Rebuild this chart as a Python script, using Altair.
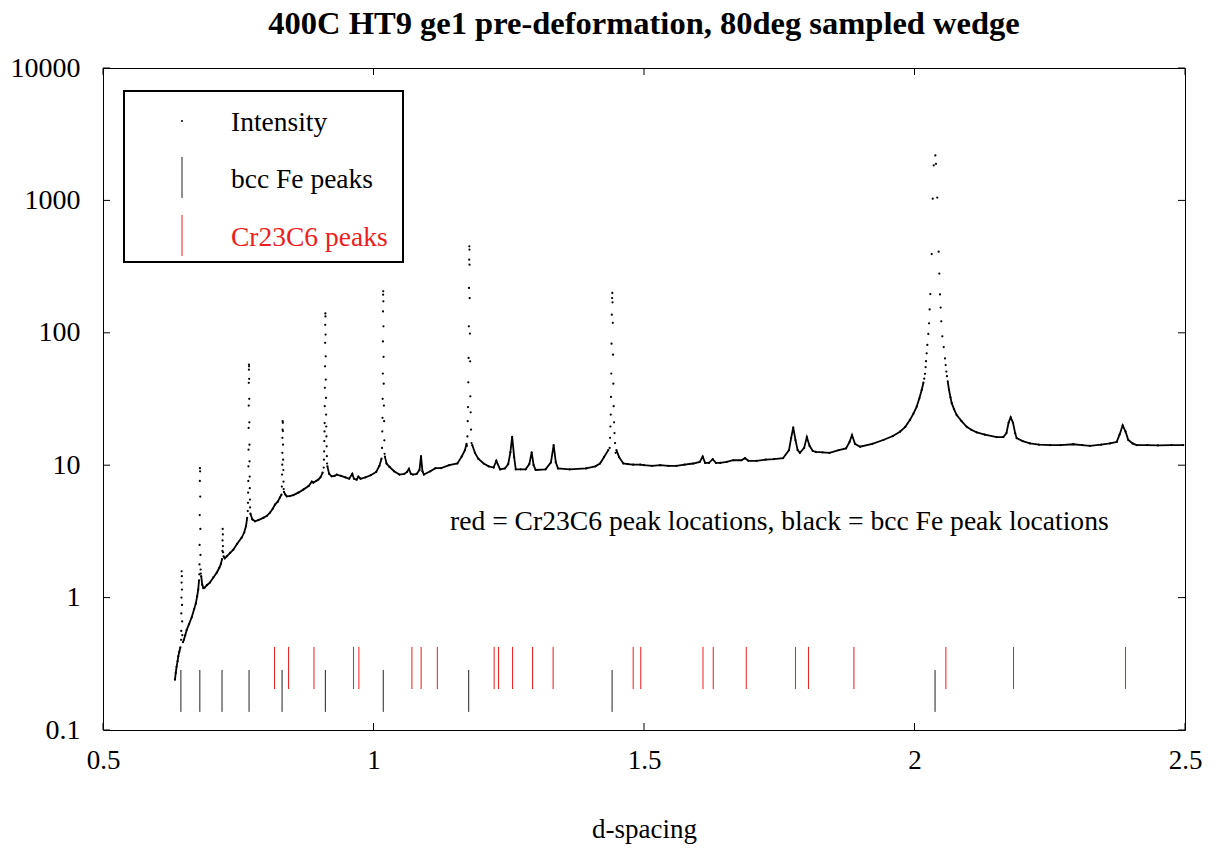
import altair as alt
import pandas as pd

# ---------------- data ----------------
# continuous background of the diffraction pattern, split at the strong peaks
seg_01 = [(0.6330, 0.24), (0.6345, 0.27), (0.6360, 0.30), (0.6378, 0.33), (0.6392, 0.36), (0.6410, 0.39), (0.6430, 0.42)]
seg_02 = [(0.6478, 0.46), (0.6495, 0.48), (0.6520, 0.52), (0.6547, 0.57), (0.6590, 0.63), (0.6640, 0.71), (0.6685, 0.82),
          (0.6715, 0.90), (0.6740, 1.02), (0.6760, 1.15), (0.6775, 1.35)]
seg_03 = [(0.6815, 1.45), (0.6835, 1.25), (0.6855, 1.18), (0.6880, 1.19), (0.6920, 1.24), (0.6978, 1.30), (0.7040, 1.42),
          (0.7102, 1.54), (0.7150, 1.68), (0.7180, 1.80), (0.7200, 1.95)]
seg_04 = [(0.7228, 2.05), (0.7250, 1.98), (0.7287, 2.05), (0.7350, 2.18), (0.7409, 2.30), (0.7480, 2.55), (0.7564, 2.84),
          (0.7610, 3.10), (0.7643, 3.46), (0.7665, 4.00)]
seg_05 = [(0.7725, 4.30), (0.7760, 3.90), (0.7810, 3.77), (0.7870, 3.85), (0.7963, 4.00), (0.8030, 4.15), (0.8087, 4.38),
          (0.8140, 4.70), (0.8179, 5.04), (0.8230, 5.30), (0.8270, 5.70), (0.8300, 6.00)]
seg_06 = [(0.8345, 6.3), (0.8370, 6.0), (0.8396, 5.82), (0.8450, 5.85), (0.8518, 5.95), (0.8610, 6.20), (0.8702, 6.54),
          (0.8800, 6.95), (0.8860, 7.50), (0.8887, 7.39), (0.8940, 7.60), (0.8980, 7.78), (0.9020, 8.10), (0.9060, 8.80)]
seg_07 = [(0.9148, 9.8), (0.9180, 8.6), (0.9227, 8.24), (0.9280, 8.30), (0.9320, 8.49), (0.9400, 8.30), (0.9480, 8.10),
          (0.9550, 7.90), (0.9608, 8.60), (0.9640, 7.90), (0.9689, 7.78), (0.9720, 8.20), (0.9760, 7.90), (0.9850, 8.10),
          (0.9950, 8.40), (1.0050, 8.90), (1.0110, 9.90), (1.0148, 11.2)]
seg_08 = [(1.0212, 11.6), (1.0240, 10.3), (1.0297, 9.7), (1.0380, 9.0), (1.0480, 8.5), (1.0570, 8.6), (1.0620, 8.9),
          (1.0655, 9.4), (1.0690, 8.6), (1.0728, 8.5), (1.0800, 8.6), (1.0850, 9.2), (1.0878, 11.7), (1.0905, 9.0),
          (1.0932, 8.5), (1.1050, 9.0), (1.1146, 9.5), (1.1250, 9.5), (1.1400, 10.0), (1.1550, 10.3), (1.1630, 11.6),
          (1.1690, 13.0), (1.1720, 14.5)]
seg_09 = [(1.1825, 14.2), (1.1876, 12.4), (1.1937, 11.2), (1.2036, 10.3), (1.2130, 9.8), (1.2220, 9.6), (1.2270, 10.8),
          (1.2340, 9.3), (1.2430, 9.45), (1.2490, 10.2), (1.2530, 12.5), (1.2563, 16.4), (1.2600, 11.5), (1.2630, 9.3),
          (1.2720, 9.3), (1.2813, 9.3), (1.2880, 10.2), (1.2924, 12.5), (1.2960, 10.0), (1.2998, 9.2), (1.3180, 9.3),
          (1.3280, 10.5), (1.3330, 14.2), (1.3370, 10.5), (1.3410, 9.45), (1.3627, 9.3), (1.3930, 9.45), (1.4100, 9.8),
          (1.4187, 10.3), (1.4260, 11.5), (1.4340, 13.0)]
seg_10 = [(1.4490, 13.0), (1.4540, 11.5), (1.4618, 10.3), (1.4700, 10.2), (1.4800, 10.1), (1.4930, 10.1), (1.5000, 10.0),
          (1.5150, 9.9), (1.5300, 10.0), (1.5450, 9.9), (1.5600, 9.9), (1.5750, 10.1), (1.5910, 10.3), (1.6030, 10.6),
          (1.6085, 11.6), (1.6130, 10.4), (1.6200, 10.4), (1.6270, 11.1), (1.6330, 10.4), (1.6410, 10.4), (1.6530, 10.6),
          (1.6650, 10.9), (1.6800, 10.9), (1.6867, 11.3), (1.6930, 10.8), (1.7080, 10.8), (1.7250, 11.0), (1.7400, 11.1),
          (1.7570, 11.3), (1.7680, 13.0), (1.7720, 16.0), (1.7758, 19.3), (1.7800, 15.5), (1.7840, 13.0), (1.7882, 12.4),
          (1.7960, 13.5), (1.8010, 16.3), (1.8060, 14.0), (1.8120, 12.8), (1.8177, 12.6), (1.8300, 12.5), (1.8430, 12.4),
          (1.8600, 13.0), (1.8734, 13.4), (1.8800, 15.0), (1.8845, 16.9), (1.8900, 14.5), (1.8993, 13.8), (1.9220, 14.5),
          (1.9423, 15.5), (1.9600, 16.6), (1.9732, 17.9), (1.9830, 19.5), (1.9917, 22.0), (1.9980, 24.5), (2.0041, 27.7),
          (2.0090, 32.0), (2.0133, 37.0), (2.0165, 42.0)]
seg_11 = [(2.0614, 43.0), (2.0638, 37.0), (2.0665, 32.5), (2.0688, 29.4), (2.0730, 26.5), (2.0780, 23.9), (2.0870, 21.5),
          (2.0965, 19.5), (2.1050, 18.5), (2.1150, 17.7), (2.1300, 17.0), (2.1519, 16.3), (2.1641, 16.3), (2.1700, 17.5),
          (2.1740, 21.0), (2.1778, 23.0), (2.1820, 21.0), (2.1860, 17.5), (2.1889, 16.0), (2.2000, 15.2), (2.2135, 14.6),
          (2.2300, 14.3), (2.2505, 14.2), (2.2700, 14.2), (2.2935, 14.4), (2.3100, 14.2), (2.3244, 14.0), (2.3450, 14.3),
          (2.3614, 14.6), (2.3738, 15.0), (2.3790, 17.0), (2.3848, 20.0), (2.3900, 18.0), (2.3952, 15.5), (2.4030, 14.6),
          (2.4107, 14.2), (2.4300, 14.2), (2.4500, 14.1), (2.4750, 14.2), (2.4969, 14.2)]
background_segments = [seg_01, seg_02, seg_03, seg_04, seg_05, seg_06, seg_07, seg_08, seg_09, seg_10, seg_11]

# isolated dots on the flanks of the strong peaks
peak_0645 = [(0.6453, 1.58), (0.6457, 1.45), (0.6452, 1.30), (0.6459, 1.15), (0.6450, 1.00), (0.6461, 0.88),
             (0.6448, 0.76), (0.6463, 0.66), (0.6446, 0.56), (0.6466, 0.52), (0.6443, 0.48)]
peak_0679 = [(0.6792, 9.5), (0.6795, 9.0), (0.6790, 7.6), (0.6797, 5.8), (0.6788, 4.2), (0.6799, 3.3), (0.6786, 2.5),
             (0.6802, 2.1), (0.6783, 1.78), (0.6805, 1.63), (0.6780, 1.50), (0.6808, 1.52)]
peak_0721 = [(0.7212, 3.3), (0.7215, 3.0), (0.7210, 2.7), (0.7217, 2.45), (0.7207, 2.25), (0.7220, 2.2)]
peak_0770 = [(0.7698, 57.5), (0.7700, 55.8), (0.7697, 52.7), (0.7702, 44.9), (0.7695, 41.9), (0.7703, 31.7),
             (0.7694, 28.2), (0.7705, 21.1), (0.7692, 19.1), (0.7707, 14.3), (0.7690, 13.1), (0.7709, 10.7),
             (0.7688, 9.8), (0.7711, 8.2), (0.7686, 7.6), (0.7713, 6.7), (0.7683, 6.2), (0.7716, 5.5), (0.7680, 5.2),
             (0.7719, 4.8), (0.7676, 4.5)]
peak_0832 = [(0.8321, 21.5), (0.8324, 20.9), (0.8319, 18.6), (0.8326, 18.1), (0.8317, 16.1), (0.8328, 14.3),
             (0.8315, 12.4), (0.8330, 11.0), (0.8313, 10.1), (0.8333, 9.2), (0.8310, 8.5), (0.8336, 7.5),
             (0.8306, 6.9), (0.8340, 6.6)]
peak_0911 = [(0.9110, 140), (0.9112, 133), (0.9108, 115), (0.9114, 97), (0.9106, 84), (0.9116, 66.5), (0.9104, 55.8),
             (0.9118, 44.3), (0.9101, 38.4), (0.9121, 32.2), (0.9099, 27.9), (0.9124, 24.1), (0.9097, 20.8),
             (0.9127, 19.6), (0.9094, 18.0), (0.9130, 16.5), (0.9091, 15.2), (0.9134, 13.9), (0.9088, 12.7),
             (0.9138, 11.7), (0.9084, 11.0), (0.9142, 10.3), (0.9079, 9.6)]
peak_1018 = [(1.0180, 206), (1.0178, 194), (1.0182, 173), (1.0176, 145), (1.0184, 112), (1.0174, 86), (1.0186, 65.8),
             (1.0172, 49.2), (1.0189, 41.3), (1.0169, 31.7), (1.0192, 28.2), (1.0166, 22.8), (1.0196, 21.5),
             (1.0162, 18.0), (1.0200, 15.4), (1.0158, 13.5), (1.0205, 12.2)]
peak_1177 = [(1.1771, 450), (1.1773, 425), (1.1769, 357), (1.1775, 327), (1.1765, 218), (1.1778, 183), (1.1762, 112),
             (1.1782, 98.6), (1.1758, 64.6), (1.1786, 60.9), (1.1752, 42.3), (1.1790, 33.1), (1.1747, 27.5),
             (1.1796, 25.1), (1.1742, 21.5), (1.1803, 18.6), (1.1736, 16.5), (1.1812, 14.7), (1.1728, 14.0)]
peak_1441 = [(1.4414, 200), (1.4410, 183), (1.4418, 170), (1.4405, 137), (1.4423, 119), (1.4400, 82.8), (1.4428, 68.4),
             (1.4395, 49.2), (1.4433, 41.3), (1.4390, 32.8), (1.4440, 27.9), (1.4385, 24.1), (1.4447, 21.1),
             (1.4380, 19.6), (1.4455, 17.5), (1.4373, 16.1), (1.4465, 14.7), (1.4365, 13.5), (1.4475, 12.4)]
peak_2038 = [(2.0180, 45), (2.0194, 49), (2.0205, 55), (2.0213, 61), (2.0225, 70), (2.0237, 81), (2.0255, 98),
             (2.0268, 118), (2.0280, 150), (2.0292, 196), (2.0318, 393), (2.0337, 1030), (2.0355, 1838),
             (2.0385, 2188), (2.0397, 1890), (2.0421, 1050), (2.0447, 410), (2.0459, 280), (2.0471, 195),
             (2.0483, 155), (2.0495, 122), (2.0514, 94), (2.0540, 78), (2.0564, 64), (2.0576, 57), (2.0588, 51),
             (2.0600, 47)]
peak_dots = (peak_0645 + peak_0679 + peak_0721 + peak_0770 + peak_0832 + peak_0911 + peak_1018 + peak_1177
             + peak_1441 + peak_2038)

# reference peak positions (d-spacing)
bcc_fe_peaks = [0.644, 0.679, 0.720, 0.770, 0.831, 0.911, 1.018, 1.176, 1.441, 2.038]
cr23c6_peaks = [0.817, 0.843, 0.890, 0.963, 0.973, 1.071, 1.088, 1.118, 1.223, 1.231, 1.257, 1.294, 1.332,
                1.480, 1.494, 1.609, 1.628, 1.689, 1.780, 1.804, 1.888, 2.058, 2.183, 2.390]
bcc_tick_range = (0.137, 0.284)
cr_tick_range = (0.204, 0.424)

x_ticks = [0.5, 1, 1.5, 2, 2.5]
y_ticks = [0.1, 1, 10, 100, 1000, 10000]

title_text = "400C HT9 ge1 pre-deformation, 80deg sampled wedge"
note_text = "red = Cr23C6 peak locations, black = bcc Fe peak locations"
note_pos = (1.1414, 3.24)
legend_labels = ["Intensity", "bcc Fe peaks", "Cr23C6 peaks"]

# ---------------- build tables ----------------
bg_rows = []
for i, seg in enumerate(background_segments):
    for d, v in seg:
        bg_rows.append({"d": d, "I": v, "seg": i})
bg_df = pd.DataFrame(bg_rows)
dots_df = pd.concat([bg_df[["d", "I"]], pd.DataFrame(peak_dots, columns=["d", "I"])], ignore_index=True)
fe_df = pd.DataFrame({"d": bcc_fe_peaks, "I": bcc_tick_range[0], "I2": bcc_tick_range[1]})
cr_df = pd.DataFrame({"d": cr23c6_peaks, "I": cr_tick_range[0], "I2": cr_tick_range[1]})
note_df = pd.DataFrame({"d": [note_pos[0]], "I": [note_pos[1]], "t": [note_text]})
xt_df = pd.DataFrame({"d": x_ticks})
yt_df = pd.DataFrame({"I": y_ticks})
one = pd.DataFrame({"k": [0]})

W, H = 1082, 662
FONT = "Liberation Serif"
RED = "#ee1c1c"

xs = alt.Scale(domain=[0.5, 2.5], nice=False, zero=False)
ys = alt.Scale(type="log", domain=[0.1, 10000], nice=False)
xax = alt.Axis(values=x_ticks, format="~g", ticks=False, tickSize=0, grid=False, domain=False,
               labelFont=FONT, labelFontSize=27, labelColor="black", labelPadding=17,
               labelFlush=False, labelOverlap=False, labelBound=False,
               title="d-spacing", titleFont=FONT, titleFontSize=27, titleFontWeight="normal",
               titleColor="black", titleY=107, titleBaseline="alphabetic")
yax = alt.Axis(values=y_ticks, format="~g", ticks=False, tickSize=0, grid=False, domain=False,
               labelFont=FONT, labelFontSize=28, labelColor="black", labelPadding=23,
               labelFlush=False, labelOverlap=False, labelBound=False, title=None)
X = alt.X("d:Q", scale=xs, axis=xax)
Y = alt.Y("I:Q", scale=ys, axis=yax)

line = alt.Chart(bg_df).mark_line(color="black", strokeWidth=1.8).encode(
    x=X, y=Y, detail="seg:N", order="d:Q")
dots = alt.Chart(dots_df).mark_circle(color="black", size=5, opacity=1).encode(x=X, y=Y)
fe = alt.Chart(fe_df).mark_rule(color="#222222", strokeWidth=1).encode(x=X, y=Y, y2="I2:Q")
cr = alt.Chart(cr_df).mark_rule(color=RED, strokeWidth=1).encode(x=X, y=Y, y2="I2:Q")
note = alt.Chart(note_df).mark_text(font=FONT, fontSize=27.6, color="black", align="left",
                                    baseline="alphabetic").encode(x=X, y=Y, text="t:N")

# chart title, centred over the plot area
title = alt.Chart(one).mark_text(text=title_text, font=FONT, fontSize=32.5, fontWeight="bold", color="black",
                                 align="center", baseline="alphabetic").encode(
    x=alt.value(W / 2), y=alt.value(-34))

# inward axis ticks (gnuplot style) on all four sides
tick_len = 7
xb = alt.Chart(xt_df).mark_rule(color="black", strokeWidth=1).encode(
    x=X, y=alt.value(H), y2=alt.value(H - tick_len))
xt = alt.Chart(xt_df).mark_rule(color="black", strokeWidth=1).encode(
    x=X, y=alt.value(0), y2=alt.value(tick_len))
yl = alt.Chart(yt_df).mark_rule(color="black", strokeWidth=1).encode(
    y=Y, x=alt.value(0), x2=alt.value(tick_len))
yr = alt.Chart(yt_df).mark_rule(color="black", strokeWidth=1).encode(
    y=Y, x=alt.value(W), x2=alt.value(W - tick_len))

# key box
lg_box = alt.Chart(one).mark_rect(fill="white", stroke="black", strokeWidth=2).encode(
    x=alt.value(21), x2=alt.value(300), y=alt.value(23), y2=alt.value(194))
lg_dot = alt.Chart(one).mark_circle(color="black", size=4, opacity=1).encode(
    x=alt.value(79), y=alt.value(53))
lg_fe = alt.Chart(one).mark_rule(color="#222222", strokeWidth=1).encode(
    x=alt.value(79), y=alt.value(89), y2=alt.value(130))
lg_cr = alt.Chart(one).mark_rule(color=RED, strokeWidth=1).encode(
    x=alt.value(79), y=alt.value(147), y2=alt.value(188))
lg_t1 = alt.Chart(one).mark_text(text=legend_labels[0], font=FONT, fontSize=27.5, color="black",
                                 align="left", baseline="alphabetic").encode(x=alt.value(128), y=alt.value(63))
lg_t2 = alt.Chart(one).mark_text(text=legend_labels[1], font=FONT, fontSize=27.5, color="black",
                                 align="left", baseline="alphabetic").encode(x=alt.value(128), y=alt.value(120))
lg_t3 = alt.Chart(one).mark_text(text=legend_labels[2], font=FONT, fontSize=27.5, color=RED,
                                 align="left", baseline="alphabetic").encode(x=alt.value(128), y=alt.value(178))

chart = alt.layer(
    line, dots, fe, cr, note, xb, xt, yl, yr,
    lg_box, lg_dot, lg_fe, lg_cr, lg_t1, lg_t2, lg_t3, title
).properties(
    width=W, height=H,
    autosize=alt.AutoSizeParams(type="none"),
    padding={"left": 103, "top": 68, "right": 31, "bottom": 118},
    background="white",
).configure_view(stroke="black", strokeWidth=1)

chart.save("out.html", embed_options={"renderer": "svg", "actions": False})
